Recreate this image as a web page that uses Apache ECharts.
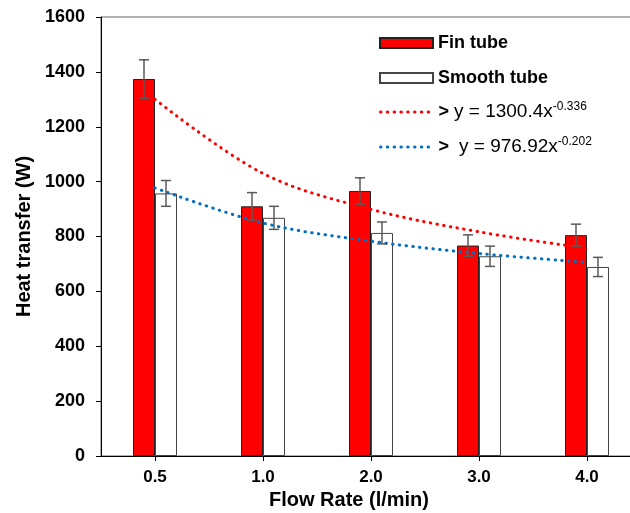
<!DOCTYPE html>
<html>
<head>
<meta charset="utf-8">
<script src="https://cdn.jsdelivr.net/npm/echarts@6/dist/echarts.min.js"></script>
<style>
html,body{margin:0;padding:0;background:#fff;}
#chart{width:630px;height:513px;}
</style>
</head>
<body>
<div id="chart"></div>
<script>
const categories = ['0.5', '1.0', '2.0', '3.0', '4.0'];
const finTube = [1374, 910, 966, 767, 805];
const smoothTube = [957, 868, 813, 728, 689];
const finErr = [70, 50, 48, 39, 40];
const smoothErr = [47, 42, 40, 37, 35];
const finTrend = [1300, 1030, 899, 817, 757];
const smoothTrend = [977, 849, 783, 738, 706];
const yMin = 0, yMax = 1600, yStep = 200;

const FONT = '"Liberation Sans", Arial, sans-serif';
const BAR_W = 22;
const DOTS = [0.5, 6.3];

function errData(vals, errs) {
  return vals.map((v, i) => [i, v - errs[i], v + errs[i]]);
}
function errRender(offset) {
  return function (params, api) {
    const i = api.value(0);
    const lo = api.coord([i, api.value(1)]);
    const hi = api.coord([i, api.value(2)]);
    const x = lo[0] + offset;
    const cap = 5;
    const style = { stroke: '#5a5a5a', lineWidth: 1.5 };
    return {
      type: 'group',
      children: [
        { type: 'line', shape: { x1: x, y1: lo[1], x2: x, y2: hi[1] }, style },
        { type: 'line', shape: { x1: x - cap, y1: lo[1], x2: x + cap, y2: lo[1] }, style },
        { type: 'line', shape: { x1: x - cap, y1: hi[1], x2: x + cap, y2: hi[1] }, style }
      ]
    };
  };
}

const legendText = {
  fontFamily: FONT, fontSize: 18, fontWeight: 'bold', color: '#000', lineHeight: 22,
  rich: {
    b: { fontFamily: FONT, fontSize: 18, fontWeight: 'bold', color: '#000', lineHeight: 22 },
    n: { fontFamily: FONT, fontSize: 19, fontWeight: 'normal', color: '#000', lineHeight: 22 },
    s: { fontFamily: FONT, fontSize: 12, fontWeight: 'normal', color: '#000', lineHeight: 12, verticalAlign: 'top' }
  }
};
function mkLegend(name, top, fmt, lineColor) {
  const l = {
    data: [lineColor ? { name: name } : { name: name, icon: 'rect' }],
    left: 374, top: top, orient: 'vertical',
    itemWidth: 53, itemHeight: 10, itemGap: 0,
    textStyle: legendText, selectedMode: false,
    formatter: fmt || (n => n)
  };
  if (lineColor) {
    l.itemStyle = { opacity: 0 };
    l.lineStyle = { color: lineColor, width: 3, type: DOTS, cap: 'round' };
  }
  return l;
}

const chart = echarts.init(document.getElementById('chart'), null, { renderer: 'canvas' });
chart.setOption({
  animation: false,
  backgroundColor: '#fff',
  grid: { left: 101, right: -11, top: 17, bottom: 57, show: true, borderColor: '#666', borderWidth: 1, outerBoundsMode: 'none' },
  legend: [
    mkLegend('Fin tube', 27),
    mkLegend('Smooth tube', 62),
    mkLegend('Fin trend', 96, () => '{b|>} {n|y = 1300.4x}{s|-0.336}', '#ff0000'),
    mkLegend('Smooth trend', 131, () => '{b|>}  {n|y = 976.92x}{s|-0.202}', '#0070c0')
  ],
  xAxis: {
    type: 'category', data: categories, boundaryGap: true,
    name: 'Flow Rate (l/min)', nameLocation: 'middle', nameGap: 32,
    nameTextStyle: { fontFamily: FONT, fontSize: 20, fontWeight: 'bold', color: '#000', padding: [0, 44, 0, 0] },
    axisLine: { lineStyle: { color: '#000', width: 1 } },
    axisTick: { show: true, alignWithLabel: true, length: 5, lineStyle: { color: '#000' } },
    axisLabel: { fontFamily: FONT, fontSize: 17, fontWeight: 'bold', color: '#000', margin: 13 },
    splitLine: { show: false }
  },
  yAxis: {
    type: 'value', min: yMin, max: yMax, interval: yStep,
    name: 'Heat transfer (W)', nameLocation: 'middle', nameGap: 60, nameRotate: 90,
    nameTextStyle: { fontFamily: FONT, fontSize: 20, fontWeight: 'bold', color: '#000' },
    axisLine: { show: true, lineStyle: { color: '#000', width: 1 } },
    axisTick: { show: true, length: 5, lineStyle: { color: '#000' } },
    axisLabel: { fontFamily: FONT, fontSize: 18, fontWeight: 'bold', color: '#000', margin: 16,
      formatter: v => String(v) },
    splitLine: { show: false }
  },
  series: [
    { name: 'Fin tube', type: 'bar', data: finTube, barWidth: BAR_W, barGap: '0%',
      itemStyle: { color: '#ff0000', borderColor: '#222', borderWidth: 1 } },
    { name: 'Smooth tube', type: 'bar', data: smoothTube, barWidth: BAR_W, barGap: '0%',
      itemStyle: { color: '#ffffff', borderColor: '#444', borderWidth: 1 } },
    { name: 'Fin trend', type: 'line', data: finTrend, smooth: 0.35, symbol: 'none', z: 5,
      itemStyle: { color: '#ff0000' },
      lineStyle: { color: '#ff0000', width: 3, type: DOTS, cap: 'round' } },
    { name: 'Smooth trend', type: 'line', data: smoothTrend, smooth: 0.35, symbol: 'none', z: 5,
      itemStyle: { color: '#0070c0' },
      lineStyle: { color: '#0070c0', width: 3, type: DOTS, cap: 'round' } },
    { type: 'custom', data: errData(finTube, finErr), renderItem: errRender(-BAR_W / 2), z: 6, silent: true },
    { type: 'custom', data: errData(smoothTube, smoothErr), renderItem: errRender(BAR_W / 2), z: 6, silent: true }
  ]
});
</script>
</body>
</html>
